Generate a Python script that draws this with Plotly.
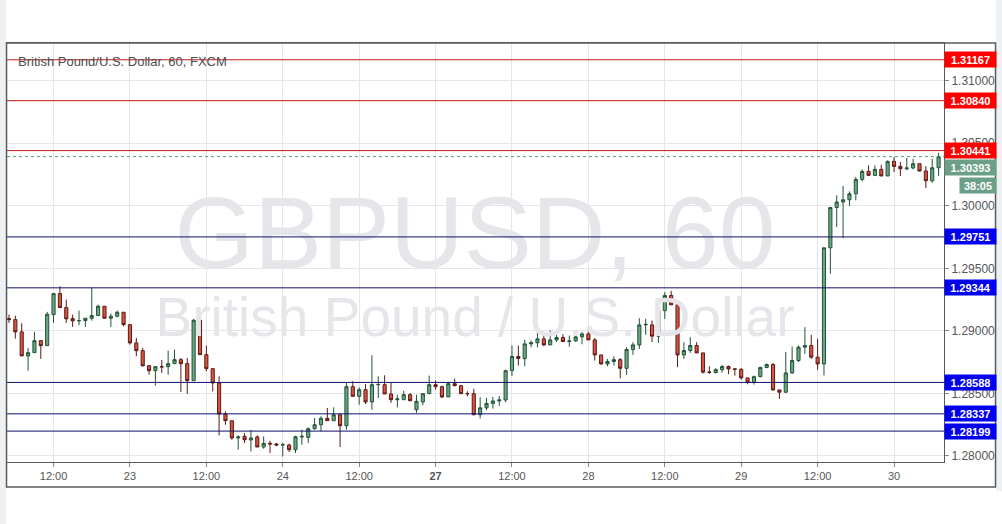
import pandas as pd
import plotly.graph_objects as go

# ---------------- data ----------------
open_ = [1.29098, 1.29090, 1.28992, 1.28800, 1.28826, 1.28922, 1.28882,
         1.29130, 1.29298, 1.29186, 1.29098, 1.29080, 1.29082, 1.29101, 1.29122, 1.29197, 1.29101,
         1.29117, 1.29149, 1.29050, 1.28904, 1.28842, 1.28722, 1.28682, 1.28714, 1.28714, 1.28738,
         1.28770, 1.28738, 1.28602, 1.29085, 1.28810, 1.28698, 1.28584, 1.28336, 1.28282, 1.28144,
         1.28157, 1.28128, 1.28152, 1.28072, 1.28101, 1.28096, 1.28088, 1.28088, 1.28050, 1.28152,
         1.28149, 1.28218, 1.28250, 1.28301, 1.28282, 1.28330, 1.28242, 1.28554, 1.28477, 1.28530,
         1.28432, 1.28570, 1.28570, 1.28496, 1.28450, 1.28450, 1.28490, 1.28370, 1.28432, 1.28498,
         1.28570, 1.28554, 1.28472, 1.28578, 1.28562, 1.28498, 1.28498, 1.28330, 1.28385, 1.28420,
         1.28440, 1.28448, 1.28683, 1.28795, 1.28778, 1.28896, 1.28905, 1.28936, 1.28888, 1.28928,
         1.28947, 1.28915, 1.28920, 1.28952, 1.28976, 1.28928, 1.28808, 1.28736, 1.28755, 1.28770,
         1.28701, 1.28851, 1.28888, 1.29048, 1.29048, 1.28958, 1.29162, 1.29283, 1.29208, 1.28808,
         1.28843, 1.28883, 1.28824, 1.28672, 1.28667, 1.28690, 1.28715, 1.28696, 1.28693, 1.28624,
         1.28590, 1.28634, 1.28707, 1.28731, 1.28528, 1.28510, 1.28664, 1.28763, 1.28870, 1.28883,
         1.28790, 1.28736, 1.29664, 1.29986, 1.30030, 1.30048, 1.30096, 1.30211, 1.30275, 1.30243,
         1.30291, 1.30238, 1.30355, 1.30315, 1.30296, 1.30302, 1.30336, 1.30278, 1.30200, 1.30304]
high = [1.29130, 1.29122, 1.29061, 1.28864, 1.28992, 1.28922, 1.29152,
        1.29298, 1.29357, 1.29250, 1.29130, 1.29162, 1.29101, 1.29344, 1.29210, 1.29197, 1.29138,
        1.29162, 1.29149, 1.29050, 1.28944, 1.28864, 1.28722, 1.28714, 1.28768, 1.28842, 1.28850,
        1.28784, 1.28784, 1.29096, 1.29085, 1.28882, 1.28698, 1.28637, 1.28357, 1.28282, 1.28165,
        1.28184, 1.28208, 1.28165, 1.28157, 1.28122, 1.28104, 1.28104, 1.28098, 1.28162, 1.28210,
        1.28229, 1.28304, 1.28317, 1.28384, 1.28389, 1.28338, 1.28592, 1.28597, 1.28549, 1.28576,
        1.28805, 1.28637, 1.28645, 1.28584, 1.28490, 1.28522, 1.28504, 1.28490, 1.28498, 1.28642,
        1.28605, 1.28562, 1.28592, 1.28618, 1.28562, 1.28517, 1.28538, 1.28470, 1.28465, 1.28472,
        1.28480, 1.28690, 1.28883, 1.28883, 1.28928, 1.28923, 1.29011, 1.28982, 1.29003, 1.28968,
        1.28973, 1.28963, 1.28976, 1.28990, 1.29016, 1.28942, 1.28808, 1.28776, 1.28797, 1.28782,
        1.28870, 1.28910, 1.29101, 1.29096, 1.29083, 1.29176, 1.29310, 1.29320, 1.29230, 1.28910,
        1.28950, 1.28910, 1.28824, 1.28718, 1.28702, 1.28728, 1.28723, 1.28702, 1.28702, 1.28624,
        1.28643, 1.28715, 1.28739, 1.28744, 1.28528, 1.28830, 1.28875, 1.28883, 1.29030, 1.28968,
        1.28936, 1.29664, 1.29986, 1.30083, 1.30158, 1.30115, 1.30230, 1.30291, 1.30323, 1.30323,
        1.30328, 1.30363, 1.30390, 1.30350, 1.30382, 1.30376, 1.30336, 1.30318, 1.30376, 1.30424]
low = [1.29064, 1.28938, 1.28800, 1.28682, 1.28826, 1.28776, 1.28882,
       1.29064, 1.29186, 1.29064, 1.29032, 1.29045, 1.29032, 1.29082, 1.29122, 1.29101, 1.29032,
       1.29109, 1.29037, 1.28890, 1.28797, 1.28720, 1.28650, 1.28562, 1.28664, 1.28650, 1.28738,
       1.28512, 1.28496, 1.28602, 1.28810, 1.28677, 1.28517, 1.28165, 1.28250, 1.28130, 1.28050,
       1.28104, 1.28037, 1.28072, 1.28058, 1.28024, 1.28077, 1.27997, 1.28032, 1.28024, 1.28090,
       1.28104, 1.28210, 1.28197, 1.28282, 1.28282, 1.28072, 1.28210, 1.28477, 1.28410, 1.28416,
       1.28370, 1.28464, 1.28496, 1.28424, 1.28389, 1.28450, 1.28437, 1.28344, 1.28405, 1.28498,
       1.28530, 1.28464, 1.28472, 1.28557, 1.28498, 1.28477, 1.28325, 1.28300, 1.28366, 1.28379,
       1.28400, 1.28430, 1.28640, 1.28723, 1.28718, 1.28868, 1.28868, 1.28878, 1.28888, 1.28910,
       1.28910, 1.28873, 1.28912, 1.28893, 1.28928, 1.28763, 1.28728, 1.28718, 1.28723, 1.28621,
       1.28648, 1.28808, 1.28856, 1.28968, 1.28910, 1.28904, 1.29096, 1.29208, 1.28710, 1.28776,
       1.28824, 1.28824, 1.28659, 1.28656, 1.28659, 1.28667, 1.28654, 1.28643, 1.28611, 1.28573,
       1.28571, 1.28630, 1.28702, 1.28523, 1.28456, 1.28504, 1.28656, 1.28750, 1.28816, 1.28776,
       1.28688, 1.28643, 1.29456, 1.29830, 1.29742, 1.29998, 1.30043, 1.30195, 1.30238, 1.30238,
       1.30238, 1.30238, 1.30270, 1.30238, 1.30283, 1.30291, 1.30275, 1.30142, 1.30184, 1.30238]
close = [1.29090, 1.28992, 1.28800, 1.28826, 1.28922, 1.28882, 1.29133,
         1.29298, 1.29186, 1.29096, 1.29080, 1.29082, 1.29101, 1.29122, 1.29197, 1.29101, 1.29117,
         1.29149, 1.29050, 1.28904, 1.28842, 1.28720, 1.28682, 1.28714, 1.28712, 1.28738, 1.28770,
         1.28738, 1.28602, 1.29085, 1.28810, 1.28698, 1.28584, 1.28336, 1.28282, 1.28144, 1.28152,
         1.28130, 1.28144, 1.28072, 1.28101, 1.28096, 1.28088, 1.28090, 1.28050, 1.28154, 1.28157,
         1.28218, 1.28250, 1.28301, 1.28282, 1.28330, 1.28242, 1.28554, 1.28477, 1.28530, 1.28432,
         1.28570, 1.28572, 1.28496, 1.28450, 1.28456, 1.28490, 1.28442, 1.28437, 1.28498, 1.28570,
         1.28554, 1.28472, 1.28578, 1.28562, 1.28498, 1.28498, 1.28330, 1.28385, 1.28420, 1.28440,
         1.28448, 1.28682, 1.28795, 1.28780, 1.28896, 1.28905, 1.28936, 1.28888, 1.28928, 1.28947,
         1.28915, 1.28920, 1.28952, 1.28976, 1.28928, 1.28808, 1.28736, 1.28755, 1.28770, 1.28701,
         1.28851, 1.28888, 1.29048, 1.29052, 1.28958, 1.29162, 1.29283, 1.29208, 1.28808, 1.28843,
         1.28883, 1.28824, 1.28670, 1.28668, 1.28690, 1.28715, 1.28696, 1.28693, 1.28624, 1.28590,
         1.28634, 1.28707, 1.28731, 1.28528, 1.28510, 1.28664, 1.28763, 1.28870, 1.28883, 1.28790,
         1.28736, 1.29664, 1.29986, 1.30030, 1.30048, 1.30096, 1.30211, 1.30275, 1.30243, 1.30291,
         1.30238, 1.30355, 1.30315, 1.30296, 1.30302, 1.30336, 1.30278, 1.30200, 1.30304, 1.30393]

# hourly FX session bars (market closed Fri 21:00 - Sun 21:00 UTC)
all_hours = pd.date_range("2018-08-22 05:00", "2018-08-30 07:00", freq="h")
hours = [h for h in all_hours
         if not ((h.weekday() == 4 and h.hour >= 21) or h.weekday() == 5
                 or (h.weekday() == 6 and h.hour < 21))]
times = [h.strftime("%Y-%m-%d %H:%M") for h in hours]

tick_times = ["2018-08-22 12:00", "2018-08-23 00:00", "2018-08-23 12:00", "2018-08-24 00:00",
              "2018-08-24 12:00", "2018-08-27 00:00", "2018-08-27 12:00", "2018-08-28 00:00",
              "2018-08-28 12:00", "2018-08-29 00:00", "2018-08-29 12:00", "2018-08-30 00:00"]
tick_labels = ["12:00", "23", "12:00", "24", "12:00", "<b>27</b>", "12:00", "28",
               "12:00", "29", "12:00", "30"]

price_ticks = [1.280, 1.285, 1.290, 1.295, 1.300, 1.305, 1.310]
red_levels = [1.31167, 1.30840, 1.30441]
blue_levels = [1.29751, 1.29344, 1.28588, 1.28337, 1.28199]
last_price = 1.30393
countdown = "38:05"
chart_title = "British Pound/U.S. Dollar, 60, FXCM"
wm_symbol = "GBPUSD, 60"
wm_desc = "British Pound / U.S. Dollar"

# ---------------- figure ----------------
xi = list(range(len(times)))
tickvals = [times.index(t) for t in tick_times]
FONT = "Liberation Sans"

fig = go.Figure()

# watermark (drawn below candles)
fig.add_trace(go.Scatter(x=[73.2], y=[1.29706], mode="text", text=[wm_symbol],
                         textfont=dict(family=FONT, size=102, color="#e6e6ea"),
                         hoverinfo="skip", showlegend=False))
fig.add_trace(go.Scatter(x=[73.2], y=[1.29066], mode="text", text=[wm_desc],
                         textfont=dict(family=FONT, size=55, color="#e6e6ea"),
                         hoverinfo="skip", showlegend=False))

fig.add_trace(go.Candlestick(
    x=xi, open=open_, high=high, low=low, close=close,
    text=times, hoverinfo="text+y",
    increasing=dict(fillcolor="#6ba583", line=dict(color="#225437", width=1)),
    decreasing=dict(fillcolor="#d75442", line=dict(color="#5b1a13", width=1)),
    whiskerwidth=0, showlegend=False))

shapes = []
for lv in red_levels:
    shapes.append(dict(type="line", xref="paper", x0=0, x1=1, yref="y", y0=lv, y1=lv,
                       line=dict(color="#c41a1a", width=1)))
for lv in blue_levels:
    shapes.append(dict(type="line", xref="paper", x0=0, x1=1, yref="y", y0=lv, y1=lv,
                       line=dict(color="#10106e", width=1)))
shapes.append(dict(type="line", xref="paper", x0=0, x1=1, yref="y", y0=last_price, y1=last_price,
                   line=dict(color="#4f9a78", width=1, dash="dot")))
# outer frame and side strips
shapes.append(dict(type="rect", xref="paper", yref="paper", x0=-0.0075, x1=-0.0008,
                   y0=-0.148, y1=1.103, fillcolor="#eef1f4", line=dict(width=0), layer="below"))
shapes.append(dict(type="rect", xref="paper", yref="paper", x0=1.0555, x1=1.07,
                   y0=-0.07, y1=1.103, fillcolor="#eef1f4", line=dict(width=0), layer="below"))
shapes.append(dict(type="rect", xref="paper", yref="paper", x0=-0.0005, x1=1.0550,
                   y0=-0.0597, y1=1.0, line=dict(color="#5a5a5a", width=1.5), layer="above"))

annotations = [dict(text=chart_title, xref="paper", yref="paper", x=0.0096, y=0.957,
                    xanchor="left", yanchor="middle", showarrow=False,
                    font=dict(family=FONT, size=13, color="#4d4d4d"))]

def price_label(lv, bg, yshift=0):
    return dict(text="<b>%.5f</b>" % lv, xref="paper", yref="y", x=1, y=lv,
                xanchor="left", yanchor="middle", showarrow=False, yshift=yshift,
                bgcolor=bg, width=49, height=13, borderpad=1, align="center",
                font=dict(family=FONT, size=11, color="white"))

for lv in red_levels:
    annotations.append(price_label(lv, "#ff0000"))
for lv in blue_levels:
    annotations.append(price_label(lv, "#0000ee"))
annotations.append(price_label(last_price, "#6b9f86", yshift=-11))
annotations.append(dict(text="<b>%s</b>" % countdown, xref="paper", yref="y", x=1, y=last_price,
                        xanchor="left", yanchor="middle", showarrow=False, xshift=15, yshift=-29,
                        bgcolor="#6b9f86", width=34, height=13, borderpad=1, align="center",
                        font=dict(family=FONT, size=11, color="white")))

fig.update_layout(
    width=1002, height=524,
    margin=dict(l=7, r=58, t=43, b=62),
    paper_bgcolor="white", plot_bgcolor="white",
    shapes=shapes, annotations=annotations,
    xaxis=dict(range=[-0.31, 146.85], tickvals=tickvals, ticktext=tick_labels,
               showgrid=True, gridcolor="#e6e6e6", zeroline=False,
               showline=True, linecolor="#5a5a5a", linewidth=1, mirror=True,
               ticks="outside", ticklen=4, tickcolor="#888",
               tickfont=dict(family=FONT, size=11, color="#555"),
               rangeslider=dict(visible=False), fixedrange=True),
    yaxis=dict(side="right", range=[1.27952, 1.31301], tickvals=price_ticks,
               ticktext=["%.5f" % v for v in price_ticks],
               showgrid=True, gridcolor="#e6e6e6", zeroline=False,
               showline=True, linecolor="#5a5a5a", linewidth=1, mirror=True,
               ticks="outside", ticklen=4, tickcolor="#888",
               tickfont=dict(family=FONT, size=12, color="#555"), fixedrange=True),
)

fig.write_html("out.html", config={"displayModeBar": False},
               post_script="document.body.style.margin='0px';")
